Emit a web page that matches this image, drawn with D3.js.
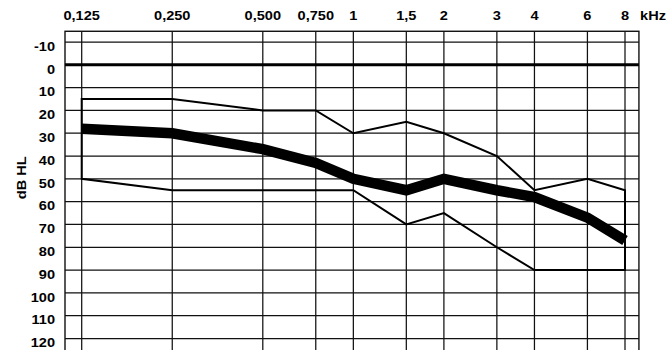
<!DOCTYPE html>
<html>
<head>
<meta charset="utf-8">
<script src="https://cdn.jsdelivr.net/npm/d3@7"></script>
<style>
  html, body { margin: 0; padding: 0; background: #fff; }
  svg { display: block; }
  text { font-family: "Liberation Sans", Arial, Helvetica, sans-serif; font-weight: bold; fill: #000; }
</style>
</head>
<body>
<svg id="chart" width="668" height="350"></svg>
<script>
// Audiogram: frequencies (kHz) and hearing levels (dB HL)
const freqs = [0.125, 0.25, 0.5, 0.75, 1, 1.5, 2, 3, 4, 6, 8];
const freqLabels = ["0,125", "0,250", "0,500", "0,750", "1", "1,5", "2", "3", "4", "6", "8"];
const dbTicks = [-10, 0, 10, 20, 30, 40, 50, 60, 70, 80, 90, 100, 110, 120];

// Range boundaries (upper / lower) and the mean curve
const upperBound = [15, 15, 20, 20, 30, 25, 30, 40, 55, 50, 55];
const lowerBound = [50, 55, 55, 55, 55, 70, 65, 80, 90, 90, 90];
const meanLevel  = [28, 30, 37, 43, 50, 55, 50, 55, 58, 67, 77];

const svg = d3.select("#chart");

const x = d3.scaleLog().base(2).domain([0.125, 8]).range([81.7, 625]);
const y = d3.scaleLinear().domain([-10, 120]).range([42, 338.5]);

// frame limits expressed in data units
const fMin = 0.11, fMax = 8.9, dbTop = -14.7, dbBottom = 127;

const TEXT_STRETCH = 1.12;
function label(px, py, str, anchor, rotate) {
  svg.append("text")
    .attr("transform", `translate(${px},${py})` + (rotate ? ` rotate(${rotate})` : "") + ` scale(${TEXT_STRETCH},1)`)
    .attr("text-anchor", anchor)
    .attr("font-size", 13)
    .text(str);
}

const grid = svg.append("g").attr("stroke", "#111").attr("stroke-width", 1.25).attr("fill", "none");

// horizontal grid lines
grid.selectAll("line.h").data(dbTicks.filter(d => d !== 0)).join("line")
  .attr("class", "h")
  .attr("x1", x(fMin)).attr("x2", x(fMax))
  .attr("y1", d => y(d)).attr("y2", d => y(d));

// vertical grid lines
grid.selectAll("line.v").data(freqs).join("line")
  .attr("class", "v")
  .attr("x1", d => x(d)).attr("x2", d => x(d))
  .attr("y1", y(dbTop)).attr("y2", y(dbBottom));

// frame
grid.append("rect")
  .attr("x", x(fMin)).attr("y", y(dbTop))
  .attr("width", x(fMax) - x(fMin)).attr("height", y(dbBottom) - y(dbTop))
  .attr("stroke-width", 1.4);

// 0 dB reference line
svg.append("line")
  .attr("x1", x(fMin)).attr("x2", x(fMax))
  .attr("y1", y(0)).attr("y2", y(0))
  .attr("stroke", "#000").attr("stroke-width", 3);

// range outline: upper boundary, down at 8 kHz, lower boundary back, up at 0.125 kHz
const outlinePts = freqs.map((f, i) => [x(f), y(upperBound[i])])
  .concat(freqs.map((f, i) => [x(f), y(lowerBound[i])]).reverse());
svg.append("path")
  .attr("d", d3.line()(outlinePts) + "Z")
  .attr("fill", "none").attr("stroke", "#000").attr("stroke-width", 2)
  .attr("stroke-linejoin", "miter");

// mean curve
svg.append("path")
  .datum(freqs.map((f, i) => [x(f), y(meanLevel[i])]))
  .attr("d", d3.line())
  .attr("fill", "none").attr("stroke", "#000").attr("stroke-width", 10.5)
  .attr("stroke-linejoin", "miter").attr("stroke-linecap", "butt");

// frequency labels along the top
freqs.forEach((f, i) => label(x(f), 19.8, freqLabels[i], "middle"));
label(653, 19.8, "kHz", "middle");

// level labels on the left
dbTicks.forEach(d => label(55, y(d) + 8.8, String(d), "end"));

// axis title
label(26, y(49.5), "dB HL", "middle", -90);
</script>
</body>
</html>
